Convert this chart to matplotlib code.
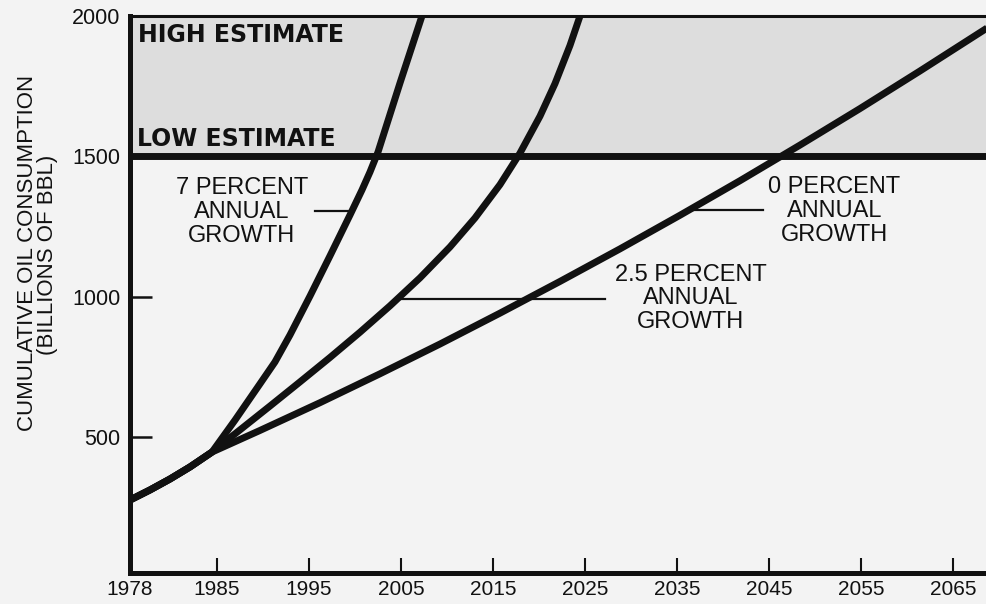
import numpy as np
import matplotlib
matplotlib.use("Agg")
import matplotlib.pyplot as plt

plt.rcParams['font.family'] = ['Liberation Sans', 'DejaVu Sans']

# ---------------- data ----------------
years_7pct = [1978.0, 1979.61, 1981.22, 1982.83, 1984.60, 1986.96, 1989.67,
              1991.30, 1992.93, 1995.11, 1997.28, 1999.46, 2000.76, 2001.63,
              2002.50, 2004.89, 2007.28]
vals_7pct = [275, 311, 350, 393, 446, 560, 689, 767, 863, 1002, 1145, 1291,
             1380, 1444, 1515, 1761, 2000]

years_25pct = [1978.0, 1979.61, 1981.22, 1982.83, 1984.60, 1987.50, 1990.76,
               1994.02, 1997.28, 2000.54, 2003.80, 2007.07, 2010.33, 2013.04,
               2015.76, 2017.93, 2020.11, 2021.74, 2023.37, 2024.46]
vals_25pct = [275, 311, 350, 393, 446, 525, 610, 696, 783, 873, 967, 1067,
              1177, 1280, 1399, 1511, 1643, 1759, 1895, 2000]

years_0pct = [1978.0, 1979.61, 1981.22, 1982.83, 1984.60, 1989.67, 1996.20,
              2002.72, 2009.24, 2015.76, 2022.28, 2028.80, 2035.33, 2041.85,
              2048.37, 2054.89, 2061.41, 2068.70]
vals_0pct = [275, 311, 350, 393, 446, 523, 622, 725, 831, 941, 1054, 1170,
             1290, 1413, 1540, 1670, 1804, 1957]

low_estimate = 1500
high_estimate = 2000

x_ticks = [1978, 1985, 1995, 2005, 2015, 2025, 2035, 2045, 2055, 2065]
y_ticks = [500, 1000, 1500, 2000]

# the original axis is stretched between 1978 and 1985
K = (87 / 9.2) / 7.0


def fwd(x):
    x = np.asarray(x, dtype=float)
    return np.where(x < 1985, 1985 - (1985 - x) * K, x)


def inv(u):
    u = np.asarray(u, dtype=float)
    return np.where(u < 1985, 1985 - (1985 - u) / K, u)


BG = '#f3f3f3'
INK = '#111111'

fig = plt.figure(figsize=(9.87, 6.04), dpi=100, facecolor=BG)
ax = fig.add_axes([130 / 987, 1 - 573 / 604, 857 / 987, 557 / 604])
ax.set_facecolor(BG)
ax.set_xscale('function', functions=(fwd, inv))
ax.set_xlim(1978, 2068.7)
ax.set_ylim(15, 2000)

# shaded estimate band
ax.axhspan(low_estimate, high_estimate, facecolor='#dddddd', lw=0, zorder=0)
ax.axhline(low_estimate, color=INK, lw=5, zorder=2)

for xs, ys in [(years_0pct, vals_0pct), (years_25pct, vals_25pct),
               (years_7pct, vals_7pct)]:
    ax.plot(xs, ys, color=INK, lw=5, solid_capstyle='butt',
            solid_joinstyle='round', zorder=3)

# spines
ax.spines['right'].set_visible(False)
ax.spines['top'].set_linewidth(2.2)
ax.spines['top'].set_color(INK)
for s in ('left', 'bottom'):
    ax.spines[s].set_linewidth(3.6)
    ax.spines[s].set_color(INK)
    ax.spines[s].set_zorder(4)

ax.set_xticks(x_ticks)
ax.set_xticklabels([str(t) for t in x_ticks])
ax.set_yticks(y_ticks)
ax.set_yticklabels([str(t) for t in y_ticks])
ax.minorticks_off()
ax.tick_params(axis='x', direction='in', length=11, width=1.5, pad=5,
               labelsize=15, colors=INK)
ax.tick_params(axis='y', direction='in', length=16, width=1.8, pad=7,
               labelsize=15.5, colors=INK)

# estimate labels
ax.text(1978.64, 1932, 'HIGH ESTIMATE', family='DejaVu Sans', weight='bold',
        fontsize=17, ha='left', va='center', color=INK)
ax.text(1978.56, 1562, 'LOW ESTIMATE', family='DejaVu Sans', weight='bold',
        fontsize=17, ha='left', va='center', color=INK)

# series labels
label_font = dict(fontsize=17, ha='center', va='center', color=INK)
for x, ys, lines in [
    (1987.7, (1387, 1302, 1216), ('7 PERCENT', 'ANNUAL', 'GROWTH')),
    (2052.1, (1391, 1305, 1220), ('0 PERCENT', 'ANNUAL', 'GROWTH')),
    (2036.5, (1077, 995, 910), ('2.5 PERCENT', 'ANNUAL', 'GROWTH')),
]:
    for y, t in zip(ys, lines):
        ax.text(x, y, t, **label_font)

# leader lines
ax.plot([1995.65, 1999.46], [1305, 1305], color=INK, lw=1.6, zorder=2)
ax.plot([2036.7, 2044.3], [1309, 1309], color=INK, lw=1.6, zorder=2)
ax.plot([2004.6, 2027.2], [991, 991], color=INK, lw=1.6, zorder=2)

# y-axis title
fig.text(28 / 987, 1 - 253 / 604, 'CUMULATIVE OIL CONSUMPTION', rotation=90,
         ha='center', va='center', fontsize=16, color=INK)
fig.text(48 / 987, 1 - 255 / 604, '(BILLIONS OF BBL)', rotation=90,
         ha='center', va='center', fontsize=16, color=INK)

fig.savefig('out.png', dpi=100, facecolor=BG)
